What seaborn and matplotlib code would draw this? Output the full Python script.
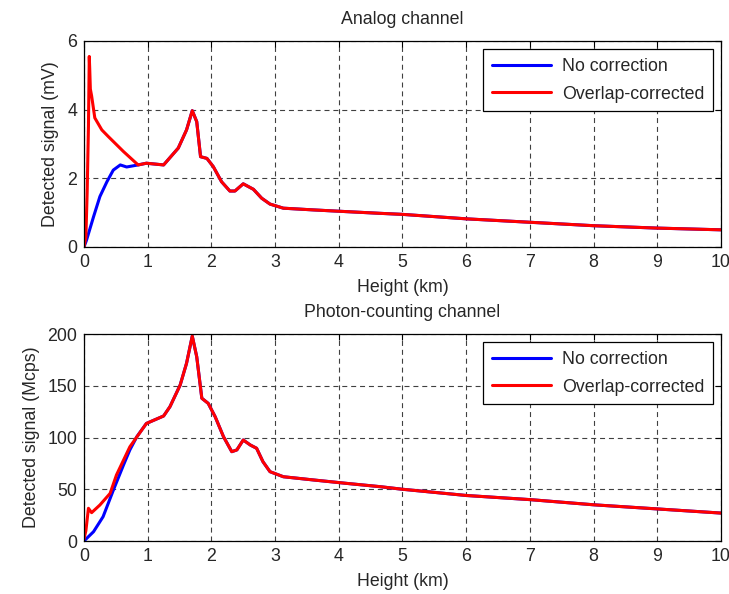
import numpy as np
import pandas as pd
import matplotlib
matplotlib.use("Agg")
import matplotlib.pyplot as plt
import seaborn as sns

# Analog channel (mV) - knots
an_h_red = [0.0, 0.03, 0.05, 0.07, 0.083, 0.09, 0.1, 0.12, 0.17, 0.28, 0.38, 0.62, 0.85, 0.98,
            1.25, 1.48, 1.61, 1.70, 1.77, 1.83, 1.93, 2.03, 2.16, 2.29, 2.37, 2.50, 2.66, 2.79,
            2.92, 3.13, 3.60, 4.12, 4.65, 5.0, 6.0, 7.0, 8.0, 9.0, 10.0]
an_v_red = [0.0, 0.3, 1.6, 3.5, 5.55, 5.2, 4.6, 4.4, 3.76, 3.41, 3.22, 2.78, 2.39, 2.44,
            2.39, 2.88, 3.41, 3.97, 3.65, 2.63, 2.58, 2.34, 1.90, 1.63, 1.63, 1.84, 1.68, 1.42,
            1.25, 1.13, 1.08, 1.03, 0.98, 0.95, 0.82, 0.72, 0.62, 0.55, 0.50]
an_h_blue = [0.0, 0.04, 0.15, 0.25, 0.36, 0.46, 0.57, 0.67, 0.85, 0.98,
             1.25, 1.48, 1.61, 1.70, 1.77, 1.83, 1.93, 2.03, 2.16, 2.29, 2.37, 2.50, 2.66, 2.79,
             2.92, 3.13, 3.60, 4.12, 4.65, 5.0, 6.0, 7.0, 8.0, 9.0, 10.0]
an_v_blue = [0.0, 0.2, 0.88, 1.47, 1.90, 2.24, 2.39, 2.33, 2.39, 2.44,
             2.39, 2.88, 3.41, 3.97, 3.65, 2.63, 2.58, 2.34, 1.90, 1.63, 1.63, 1.84, 1.68, 1.42,
             1.25, 1.13, 1.08, 1.03, 0.98, 0.95, 0.82, 0.72, 0.62, 0.55, 0.50]

# Photon-counting channel (Mcps)
pc_h_red = [0.0, 0.03, 0.07, 0.12, 0.25, 0.41, 0.51, 0.72, 0.98, 1.25, 1.35, 1.51, 1.61,
            1.70, 1.77, 1.85, 1.95, 2.06, 2.19, 2.32, 2.40, 2.50, 2.61, 2.71, 2.81, 2.92,
            3.13, 3.60, 4.12, 4.65, 5.0, 6.0, 7.0, 8.0, 9.0, 10.0]
pc_v_red = [2.0, 10.0, 31.6, 27.4, 34.8, 46.0, 63.8, 91.0, 113.6, 120.8, 129.8, 150.7, 171.7,
            198.0, 178.0, 137.9, 133.0, 120.0, 100.8, 86.3, 88.0, 97.6, 92.8, 89.6, 76.6, 67.0,
            62.1, 59.0, 55.7, 52.5, 50.0, 44.0, 40.0, 35.0, 31.0, 27.0]
pc_h_blue = [0.0, 0.15, 0.30, 0.46, 0.62, 0.72, 0.83, 0.98, 1.25, 1.35, 1.51, 1.61,
             1.70, 1.77, 1.85, 1.95, 2.06, 2.19, 2.32, 2.40, 2.50, 2.61, 2.71, 2.81, 2.92,
             3.13, 3.60, 4.12, 4.65, 5.0, 6.0, 7.0, 8.0, 9.0, 10.0]
pc_v_blue = [0.0, 9.0, 23.5, 49.0, 73.4, 88.0, 100.8, 113.6, 120.8, 129.8, 150.7, 171.7,
             198.0, 178.0, 137.9, 133.0, 120.0, 100.8, 86.3, 88.0, 97.6, 92.8, 89.6, 76.6, 67.0,
             62.1, 59.0, 55.7, 52.5, 50.0, 44.0, 40.0, 35.0, 31.0, 27.0]

labels = ["No correction", "Overlap-corrected"]

sns.set_style("white")
plt.rcParams['font.family'] = ['Liberation Sans', 'DejaVu Sans']

fig = plt.figure(figsize=(7.29, 5.94), dpi=100)
ax1 = fig.add_axes([0.1152, 0.5842, 0.8738, 0.3468])
ax2 = fig.add_axes([0.1152, 0.0892, 0.8738, 0.3485])


def make_df(hb, vb, hr, vr):
    d1 = pd.DataFrame({"h": hb, "v": vb, "s": labels[0]})
    d2 = pd.DataFrame({"h": hr, "v": vr, "s": labels[1]})
    return pd.concat([d1, d2], ignore_index=True)


panels = [
    (ax1, make_df(an_h_blue, an_v_blue, an_h_red, an_v_red), "Analog channel",
     "Detected signal (mV)", (0, 6), [0, 2, 4, 6]),
    (ax2, make_df(pc_h_blue, pc_v_blue, pc_h_red, pc_v_red), "Photon-counting channel",
     "Detected signal (Mcps)", (0, 200), [0, 50, 100, 150, 200]),
]

fs = 12.8
for ax, df, title, ylab, ylim, yt in panels:
    sns.lineplot(data=df, x="h", y="v", hue="s", palette={labels[0]: "#0000ff", labels[1]: "#ff0000"},
                 sort=False, estimator=None, lw=2.2, ax=ax)
    ax.set_xlim(0, 10)
    ax.set_ylim(*ylim)
    ax.set_xticks(range(0, 11))
    ax.set_yticks(yt)
    ax.grid(True, color="#404040", linestyle=(0, (4.5, 3.5)), lw=0.8)
    ax.tick_params(direction="in", length=4, labelsize=fs, top=True, right=True,
                   color="black", pad=5)
    for s in ax.spines.values():
        s.set_color("black")
        s.set_linewidth(0.9)
    ax.set_title(title, fontsize=fs, pad=12)
    ax.set_xlabel("Height (km)", fontsize=fs, labelpad=6)
    ax.set_ylabel(ylab, fontsize=fs, labelpad=5.5)
    leg = ax.legend(loc="upper right", fontsize=fs, frameon=True, fancybox=False,
                    edgecolor="black", framealpha=1, handlelength=3.3, borderpad=0.5,
                    labelspacing=0.6, handletextpad=0.6, borderaxespad=0.45)
    leg.get_frame().set_linewidth(0.9)
    for l in leg.get_lines():
        l.set_linewidth(2.2)

fig.savefig("out.png", dpi=100)
